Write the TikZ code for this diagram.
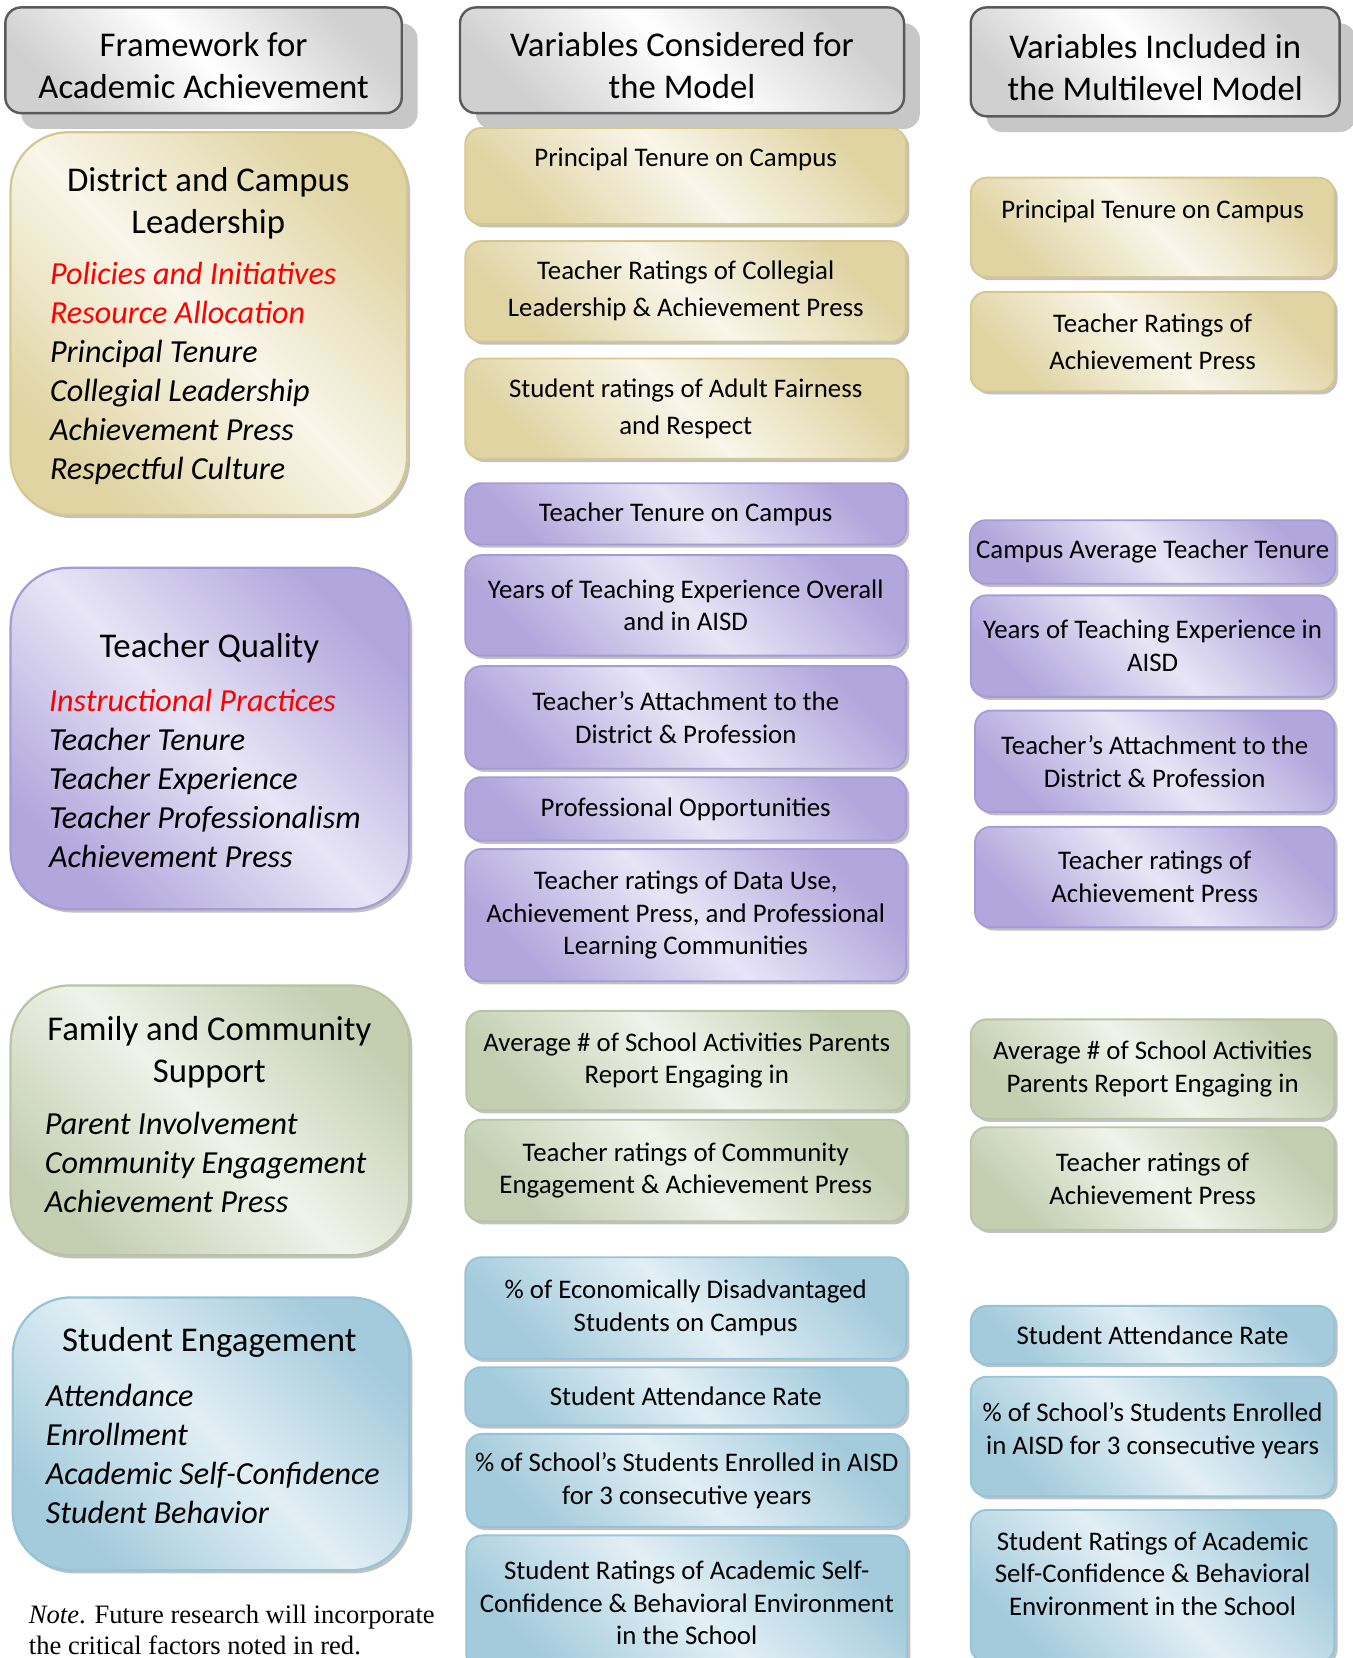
\documentclass[tikz,border=0pt]{standalone}
\usepackage{fontspec}
\setmainfont{Carlito}
\newfontfamily\notefont{Liberation Serif}
\usetikzlibrary{shadows}

\definecolor{tanD}{RGB}{224,212,163}
\definecolor{tanL}{RGB}{249,246,234}
\definecolor{tanE}{RGB}{214,200,140}
\definecolor{purD}{RGB}{177,167,220}
\definecolor{purL}{RGB}{232,229,246}
\definecolor{purE}{RGB}{165,155,215}
\definecolor{grnD}{RGB}{196,207,178}
\definecolor{grnL}{RGB}{240,243,234}
\definecolor{grnE}{RGB}{184,196,163}
\definecolor{bluD}{RGB}{163,203,220}
\definecolor{bluL}{RGB}{226,239,245}
\definecolor{bluE}{RGB}{150,195,215}
\definecolor{gryD}{RGB}{208,208,208}
\definecolor{gryE}{RGB}{90,90,90}
\definecolor{notered}{RGB}{255,0,0}

\begin{document}
\begin{tikzpicture}[x=0.02cm, y=-0.02cm,
    hdr/.style={draw=gryE, line width=1.3pt, rounded corners=0.3cm,
        top color=gryD, bottom color=gryD, middle color=white, shading angle=-45,
        drop shadow={shadow xshift=0.3cm, shadow yshift=-0.3cm, fill=black!22, opacity=1},
        align=center, font=\fontsize{18.7pt}{22.7pt}\selectfont},
    vbox/.style={rounded corners=0.3cm, line width=1pt, align=center,
        font=\fontsize{14.45pt}{17.6pt}\selectfont,
        drop shadow={shadow xshift=0.06cm, shadow yshift=-0.06cm, fill=black!35, opacity=.7}},
    tanbox/.style={vbox, draw=tanE, top color=tanD, bottom color=tanD, middle color=tanL, shading angle=-45,
        font=\fontsize{14.45pt}{19.9pt}\selectfont},
    purbox/.style={vbox, draw=purE, top color=purD, bottom color=purD, middle color=purL, shading angle=-45},
    grnbox/.style={vbox, draw=grnE, top color=grnD, bottom color=grnD, middle color=grnL, shading angle=-45},
    blubox/.style={vbox, draw=bluE, top color=bluD, bottom color=bluD, middle color=bluL, shading angle=-45},
    big/.style={rounded corners=1.1cm, line width=1.2pt},
    bigtitle/.style={align=center, inner sep=0pt, font=\fontsize{18.7pt}{22.7pt}\selectfont},
    biglist/.style={anchor=west, align=left, inner sep=0pt, font=\fontsize{17.3pt}{21pt}\selectfont\itshape},
    col2/.style={minimum width=8.34cm},
    col3/.style={minimum width=6.88cm}]
\useasboundingbox (0,0) rectangle (1279,1568);

% --- column headers ---
\node[hdr, minimum width=7.5cm, minimum height=2cm] (hdA) at (192.5,57) {\rule{0pt}{19pt}Framework for\\Academic Achievement};
\node[hdr, minimum width=8.4cm, minimum height=2cm] (hdB) at (645,57) {\rule{0pt}{19pt}Variables Considered for\\the Model};
\node[hdr, minimum width=6.98cm, minimum height=2.06cm] (hdC) at (1092.5,58.5) {\rule{0pt}{19pt}Variables Included in\\the Multilevel Model};

% --- left column: framework ---
\node[tanbox, big, minimum width=7.5cm, minimum height=7.24cm] (lead) at (197.5,306) {};
\node[bigtitle] (leadT) at (197,192) {District and Campus\\Leadership};
\node[biglist] (leadL) at (47,353) {\textcolor{notered}{Policies and Initiatives}\\
    \textcolor{notered}{Resource Allocation}\\Principal Tenure\\Collegial Leadership\\
    Achievement Press\\Respectful Culture};

\node[purbox, big, minimum width=7.54cm, minimum height=6.46cm] (tq) at (198.5,698.5) {};
\node[bigtitle] (tqT) at (198,613) {Teacher Quality};
\node[biglist] (tqL) at (46,736.5) {\textcolor{notered}{Instructional Practices}\\Teacher Tenure\\
    Teacher Experience\\Teacher Professionalism\\Achievement Press};

\node[grnbox, big, minimum width=7.54cm, minimum height=5.1cm] (fam) at (198.5,1059.5) {};
\node[bigtitle] (famT) at (198,995) {Family and Community\\Support};
\node[biglist] (famL) at (42,1099) {Parent Involvement\\Community Engagement\\Achievement Press};

\node[blubox, big, minimum width=7.5cm, minimum height=5.16cm] (stu) at (199.5,1356) {};
\node[bigtitle] (stuT) at (198,1270) {Student Engagement};
\node[biglist] (stuL) at (43,1375) {Attendance\\Enrollment\\Academic Self-Confidence\\Student Behavior};

\node[anchor=west, align=left, inner sep=0pt, font=\notefont\fontsize{14.3pt}{16.6pt}\selectfont] (note)
    at (27,1541.5) {\textit{Note}. Future research will incorporate\\the critical factors noted in red.};

% --- middle column: variables considered ---
\node[tanbox, col2, minimum height=1.82cm] (ptcB) at (648.5,166.5) {Principal Tenure on Campus\\\mbox{}};
\node[tanbox, col2, minimum height=1.9cm] (clgB) at (648.5,275.5) {Teacher Ratings of Collegial\\Leadership \& Achievement Press};
\node[tanbox, col2, minimum height=1.9cm] (fairB) at (648.5,386.5) {Student ratings of Adult Fairness\\and Respect};

\node[purbox, col2, minimum height=1.16cm] (ttenB) at (648.5,486) {Teacher Tenure on Campus};
\node[purbox, col2, minimum height=1.9cm] (yteB) at (648.5,572.5) {Years of Teaching Experience Overall\\and in AISD};
\node[purbox, col2, minimum height=1.94cm] (attB) at (648.5,678.5) {Teacher’s Attachment to the\\District \& Profession};
\node[purbox, col2, minimum height=1.2cm] (poppB) at (648.5,765) {Professional Opportunities};
\node[purbox, col2, minimum height=2.5cm] (dataB) at (648.5,865.5) {Teacher ratings of Data Use,\\Achievement Press, and Professional\\Learning Communities};

\node[grnbox, col2, minimum height=1.88cm] (actB) at (649.5,1003) {Average \# of School Activities Parents\\Report Engaging in};
\node[grnbox, col2, minimum height=1.92cm] (commB) at (648.5,1107) {Teacher ratings of Community\\Engagement \& Achievement Press};

\node[blubox, col2, minimum height=1.92cm] (econB) at (648.5,1237) {\% of Economically Disadvantaged\\Students on Campus};
\node[blubox, col2, minimum height=1.1cm] (sarB) at (648.5,1320.5) {Student Attendance Rate};
\node[blubox, col2, minimum height=1.76cm] (enrB) at (649.5,1400) {\% of School’s Students Enrolled in AISD\\for 3 consecutive years};
\node[blubox, col2, minimum height=2.56cm] (confB) at (649.5,1516) {Student Ratings of Academic Self-\\Confidence \& Behavioral Environment\\in the School};

% --- right column: variables included ---
\node[tanbox, col3, minimum height=1.88cm] (ptcC) at (1090,215) {Principal Tenure on Campus\\\mbox{}};
\node[tanbox, col3, minimum height=1.88cm] (achC) at (1090,323) {Teacher Ratings of\\Achievement Press};

\node[purbox, col3, minimum height=1.2cm] (tenC) at (1090,522) {Campus Average Teacher Tenure};
\node[purbox, col3, minimum height=1.92cm] (yteC) at (1090,611) {Years of Teaching Experience in\\AISD};
\node[purbox, minimum width=6.8cm, minimum height=1.92cm] (attC) at (1092,720) {Teacher’s Attachment to the\\District \& Profession};
\node[purbox, minimum width=6.8cm, minimum height=1.9cm] (rateC) at (1092,829.5) {Teacher ratings of\\Achievement Press};

\node[grnbox, col3, minimum height=1.88cm] (actC) at (1090,1011) {Average \# of School Activities\\Parents Report Engaging in};
\node[grnbox, col3, minimum height=1.94cm] (rategC) at (1090,1114.5) {Teacher ratings of\\Achievement Press};

\node[blubox, col3, minimum height=1.1cm] (sarC) at (1090,1262.5) {Student Attendance Rate};
\node[blubox, col3, minimum height=2.26cm] (enrC) at (1090,1358.5) {\% of School’s Students Enrolled\\in AISD for 3 consecutive years\\[-9pt]\mbox{}};
\node[blubox, col3, minimum height=2.88cm] (confC) at (1090,1500) {Student Ratings of Academic\\Self-Confidence \& Behavioral\\Environment in the School\\[-4pt]\mbox{}};
\end{tikzpicture}
\end{document}
